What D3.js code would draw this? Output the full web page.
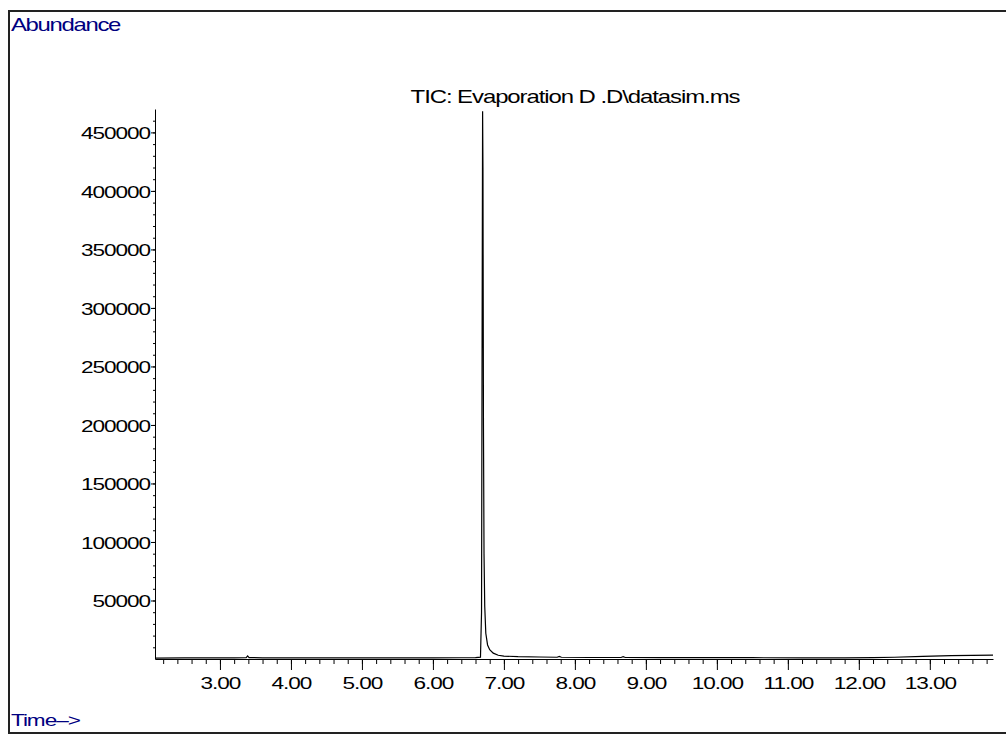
<!DOCTYPE html>
<html>
<head>
<meta charset="utf-8">
<script src="https://cdn.jsdelivr.net/npm/d3@7"></script>
<style>
  body { margin: 0; background: #fff; }
  text { font-family: "Liberation Sans", Arial, sans-serif; }
</style>
</head>
<body>
<div id="chart-area"></div>
<script>
// chromatogram trace (retention time in min, abundance)
var times = [2.09, 2.5, 2.9, 3.2, 3.37, 3.39, 3.41, 3.6, 4.0, 4.5, 5.0, 5.5, 6.0, 6.4, 6.6, 6.67,
    6.685, 6.692, 6.70, 6.705, 6.712, 6.72, 6.73, 6.745, 6.77, 6.80, 6.85, 6.92, 7.0, 7.2, 7.5,
    7.75, 7.78, 7.81, 8.2, 8.65, 8.68, 8.71, 9.2, 9.8, 10.5, 11.2, 11.8, 12.2, 12.5, 12.9, 13.3, 13.6, 13.89];
var abundance = [800, 900, 1000, 1000, 1200, 2600, 1200, 1000, 900, 900, 900, 950, 1000, 1050, 1100, 1600,
    40000, 250000, 468000, 420000, 200000, 90000, 45000, 22000, 12000, 8000, 5000, 3200, 2500, 2000, 1700,
    1500, 2200, 1500, 1300, 1300, 2000, 1300, 1200, 1100, 1100, 1000, 1000, 1100, 1500, 2200, 2800, 3100, 3300];

var xMajor = [3, 4, 5, 6, 7, 8, 9, 10, 11, 12, 13];
var yMajor = [50000, 100000, 150000, 200000, 250000, 300000, 350000, 400000, 450000];
var xMinor = d3.range(11, 70).map(function (i) { return i / 5; });
var yMinor = d3.range(1, 47).map(function (i) { return i * 10000; });

var stretch = 1.33;

var svg = d3.select("#chart-area").append("svg")
    .attr("width", 1006)
    .attr("height", 736);

// frame
svg.append("rect")
    .attr("x", 9).attr("y", 11)
    .attr("width", 1010).attr("height", 722)
    .attr("fill", "none")
    .attr("stroke", "#222")
    .attr("stroke-width", 2);

var x = d3.scaleLinear().domain([2.085, 13.89]).range([155, 993]);
var y = d3.scaleLinear().domain([0, 470000]).range([659, 109]);

// minor ticks
svg.append("g")
    .attr("transform", "translate(0,659)")
    .call(d3.axisBottom(x).tickValues(xMinor).tickSize(5).tickFormat(""))
    .call(function (g) { g.select(".domain").remove(); });

svg.append("g")
    .attr("transform", "translate(155,0)")
    .call(d3.axisLeft(y).tickValues(yMinor).tickSize(2).tickFormat(""))
    .call(function (g) { g.select(".domain").remove(); });

// major ticks + labels
var xAxis = svg.append("g")
    .attr("transform", "translate(0,659)")
    .call(d3.axisBottom(x).tickValues(xMajor).tickSize(11).tickSizeOuter(0).tickPadding(7)
        .tickFormat(d3.format(".2f")));

var yAxis = svg.append("g")
    .attr("transform", "translate(155,0)")
    .call(d3.axisLeft(y).tickValues(yMajor).tickSize(4).tickSizeOuter(0).tickPadding(1)
        .tickFormat(d3.format("d")));

svg.selectAll(".domain").attr("stroke", "#000");
svg.selectAll(".tick line").attr("stroke", "#000");

xAxis.selectAll("text")
    .attr("font-size", 17)
    .attr("letter-spacing", -0.8)
    .attr("fill", "#000")
    .attr("transform", "scale(" + stretch + ",1)");

yAxis.selectAll("text")
    .attr("font-size", 17)
    .attr("letter-spacing", -0.8)
    .attr("fill", "#000")
    .attr("dy", "0.36em")
    .attr("transform", "scale(" + stretch + ",1)")
    .attr("x", -5 / stretch);

// trace
var line = d3.line()
    .x(function (d, i) { return x(times[i]); })
    .y(function (d) { return y(d); });

svg.append("path")
    .datum(abundance)
    .attr("d", line)
    .attr("fill", "none")
    .attr("stroke", "#000")
    .attr("stroke-width", 1.2);

// texts
svg.append("text")
    .attr("transform", "translate(575,103) scale(" + stretch + ",1)")
    .attr("text-anchor", "middle")
    .attr("font-size", 18)
    .attr("letter-spacing", -0.8)
    .text("TIC: Evaporation D .D\\datasim.ms");

svg.append("text")
    .attr("transform", "translate(11,31) scale(" + stretch + ",1)")
    .attr("font-size", 18)
    .attr("letter-spacing", -1)
    .attr("fill", "#000080")
    .text("Abundance");

svg.append("text")
    .attr("transform", "translate(11,726) scale(" + stretch + ",1)")
    .attr("font-size", 17)
    .attr("letter-spacing", -0.8)
    .attr("fill", "#000080")
    .text("Time\u2013>");
</script>
</body>
</html>
